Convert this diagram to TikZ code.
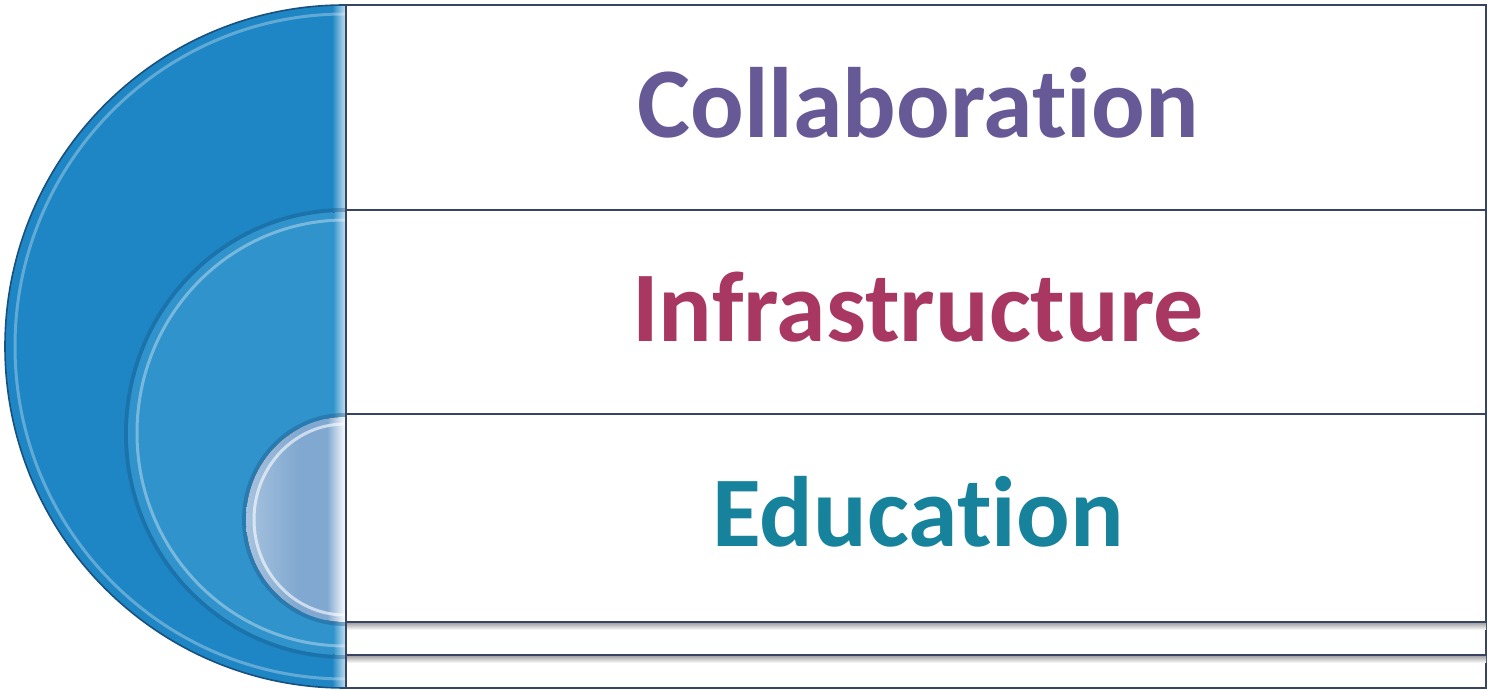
\documentclass[tikz,border=0pt]{standalone}
\usepackage{fontspec}
\setmainfont{Carlito}[Ligatures={NoCommon,NoContextual}]
\definecolor{bigblue}{RGB}{30,134,196}
\definecolor{midblue}{RGB}{48,147,204}
\definecolor{smallblue}{RGB}{128,168,208}
\definecolor{rimdark}{RGB}{25,80,125}
\definecolor{bandline}{RGB}{55,68,100}
\definecolor{collab}{RGB}{103,88,150}
\definecolor{infra}{RGB}{168,55,98}
\definecolor{edu}{RGB}{22,130,155}
\tikzset{
  band/.style={draw=bandline, line width=1.3pt, fill=white, minimum width=1140pt, inner sep=0pt, outer sep=0pt},
  label/.style={anchor=base, inner sep=0pt, font=\fontsize{100}{100}\selectfont\bfseries}
}
\begin{document}
\begin{tikzpicture}[x=1pt,y=1pt]
\useasboundingbox (0,0) rectangle (1489,690);
\fill[white] (0,0) rectangle (1489,690);
% bands
\node[band, minimum height=205pt] (b1) at (916,582.5) {};
\node[band, minimum height=204pt] (b2) at (916,378) {};
\node[band, minimum height=208pt] (b3) at (916,172) {};
\node[band, minimum height=33pt] (b4) at (916,51.5) {};
\node[band, minimum height=33pt] (b5) at (916,18.5) {};
% soft shadows under lower lines
\fill[top color=black!30, bottom color=white] (346,66) rectangle (1486,60);
\fill[top color=black!30, bottom color=white] (346,33) rectangle (1486,27);
\draw[bandline, line width=1.3pt] (b3.south west) -- (b3.south east);
\draw[bandline, line width=1.3pt] (b4.south west) -- (b4.south east);
\draw[bandline, line width=1.3pt] (b5.south west) -- (b5.south east);
% large half disc
\fill[bigblue] (345,685) arc[start angle=90, end angle=270, x radius=340, y radius=341.5] -- cycle;
\begin{scope}
\clip (345,685) arc[start angle=90, end angle=270, x radius=340, y radius=341.5] -- cycle;
\fill[left color=bigblue, right color=white!75!bigblue] (332,0) rectangle (346,690);
\end{scope}
\draw[white, opacity=0.3, line width=3pt] (345,676) arc[start angle=90, end angle=270, x radius=330, y radius=332.5];
\draw[rimdark, line width=1.6pt] (345,685) arc[start angle=90, end angle=270, x radius=340, y radius=341.5];
% medium half disc
\draw[rimdark, opacity=0.35, line width=4pt] (345,480) arc[start angle=90, end angle=270, x radius=219, y radius=223.5];
\fill[midblue] (345,478) arc[start angle=90, end angle=270, x radius=217, y radius=221.5] -- cycle;
\begin{scope}
\clip (345,478) arc[start angle=90, end angle=270, x radius=217, y radius=221.5] -- cycle;
\fill[left color=midblue, right color=white!75!midblue] (333,0) rectangle (346,690);
\end{scope}
\draw[white, opacity=0.35, line width=3pt] (345,470) arc[start angle=90, end angle=270, x radius=208, y radius=213];
% small half disc
\draw[rimdark, opacity=0.35, line width=4pt] (345,275) arc[start angle=90, end angle=270, x radius=101, y radius=104.5];
\fill[smallblue] (345,273) arc[start angle=90, end angle=270, x radius=99, y radius=102.5] -- cycle;
\begin{scope}
\clip (345,273) arc[start angle=90, end angle=270, x radius=99, y radius=102.5] -- cycle;
\fill[left color=white!30!smallblue, right color=smallblue] (246,0) rectangle (300,690);
\fill[left color=smallblue, right color=white] (327,0) rectangle (346,690);
\end{scope}
\draw[white, opacity=0.6, line width=3pt] (345,266) arc[start angle=90, end angle=270, x radius=91, y radius=95.5];
% left edge line of bands
\draw[bandline, line width=1.3pt] (b1.north west) -- (b5.south west);
% labels
\node[label, text=collab] (t1) at (918,552) {Collaboration};
\node[label, text=infra] (t2) at (918,348) {Infrastructure};
\node[label, text=edu] (t3) at (918,143) {Education};
\end{tikzpicture}
\end{document}
